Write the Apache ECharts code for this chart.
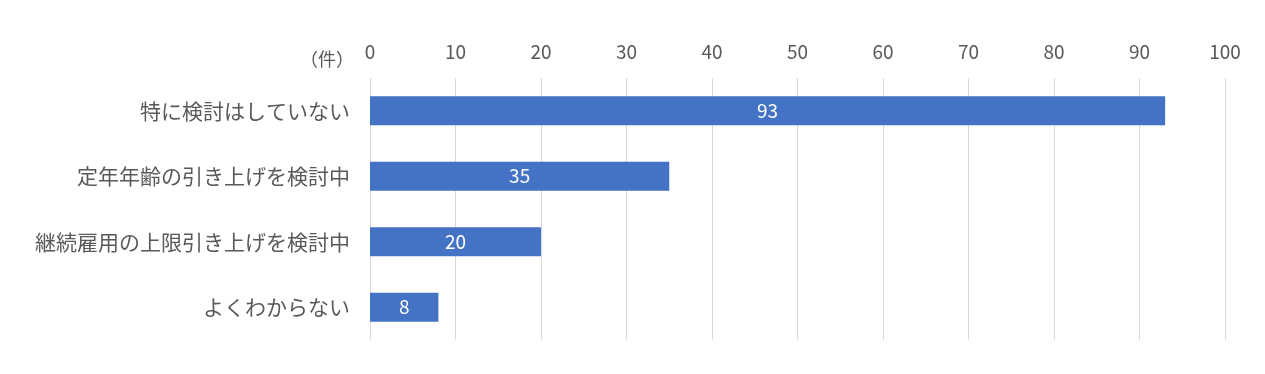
<!DOCTYPE html>
<html><head><meta charset="utf-8">
<script src="https://cdn.jsdelivr.net/npm/echarts@6/dist/echarts.min.js"></script>
<style>html,body{margin:0;padding:0;background:#fff}#c{width:1265px;height:374px}</style>
</head><body><div id="c"></div>
<script>
const categories = ['特に検討はしていない','定年年齢の引き上げを検討中','継続雇用の上限引き上げを検討中','よくわからない'];
const values = [93, 35, 20, 8];
const unitLabel = '（件）';
const font = '"Noto Sans CJK JP", "Noto Sans", sans-serif';
const chart = echarts.init(document.getElementById('c'));
chart.setOption({
  animation: false,
  grid: {left: 370, right: 40, top: 78, bottom: 34},
  graphic: [{type:'text', left: 300, top: 50, style:{text: unitLabel, fill:'#595959', font: '18px ' + font}}],
  xAxis: {type:'value', position:'top', min:0, max:100, interval:10,
    axisLine:{show:false}, axisTick:{show:false},
    axisLabel:{color:'#595959', fontSize:19, fontFamily:font, margin:17},
    splitLine:{lineStyle:{color:'#d9d9d9', width:1}}},
  yAxis: {type:'category', data: categories, inverse:true,
    axisLine:{show:false}, axisTick:{show:false},
    axisLabel:{color:'#595959', fontSize:21, fontFamily:font, margin:20}},
  series: [{type:'bar', data: values, barCategoryGap:'56%',
    itemStyle:{color:'#4472c4'},
    label:{show:true, position:'inside', color:'#fff', fontSize:19, fontFamily:font}}]
});
</script></body></html>
